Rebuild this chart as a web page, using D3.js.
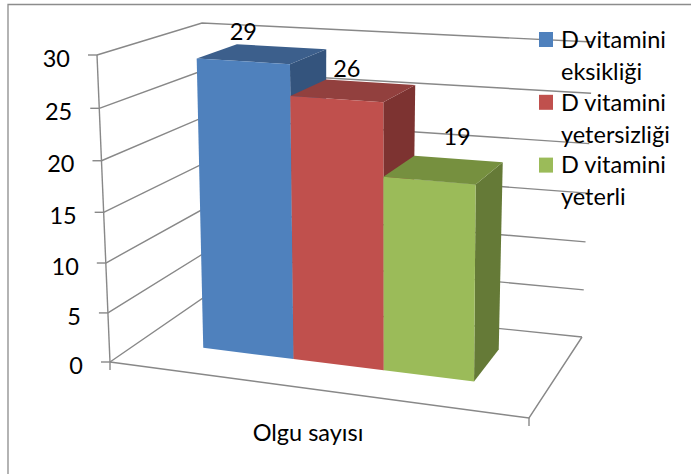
<!DOCTYPE html>
<html>
<head>
<meta charset="utf-8">
<script src="https://cdn.jsdelivr.net/npm/d3@7"></script>
<style>
  html, body { margin: 0; padding: 0; background: #ffffff; }
  svg { display: block; }
  text { font-family: Lato, "Open Sans", sans-serif; fill: #000; }
</style>
</head>
<body>
<svg id="chart" width="691" height="474"></svg>
<script>
// ---- data ----
const categories = ["Olgu sayısı"];
const seriesNames = ["D vitamini eksikliği", "D vitamini yetersizliği", "D vitamini yeterli"];
const legendLines = [["D vitamini", "eksikliği"], ["D vitamini", "yetersizliği"], ["D vitamini", "yeterli"]];
const values = [29, 26, 19];
const yTicks = [0, 5, 10, 15, 20, 25, 30];

// ---- styles ----
const frontColors = ["#4F81BD", "#C0504D", "#9BBB59"];
const topColors = ["#3C5F8C", "#92403E", "#76903F"];
const sideColors = ["#34547D", "#7D3331", "#657A37"];
const gridColor = "#888888";
const fontSize = "23.5px";

// ---- 3D projection layout (box corners on screen) ----
const corners = {
  A: [110, 362], B: [529, 418], C: [203, 298], D: [582, 337],   // floor: front-left, front-right, back-left, back-right
  E: [97, 55],   F: [531, 83],  G: [202, 23],  H: [593, 42]     // top plane at max value
};
const persp = -0.0483;   // vertical perspective factor

const svg = d3.select("#chart");

// scales
const yScale = d3.scaleLinear().domain([0, 30]).range([0, 1]);
const xScale = d3.scaleBand().domain(seriesNames).range([0.152, 0.82]).padding(0);
const zFront = 0.34, zBack = 0.75;

function bilinear(p00, p10, p01, p11, u, w) {
  return [
    (1 - u) * (1 - w) * p00[0] + u * (1 - w) * p10[0] + (1 - u) * w * p01[0] + u * w * p11[0],
    (1 - u) * (1 - w) * p00[1] + u * (1 - w) * p10[1] + (1 - u) * w * p01[1] + u * w * p11[1]
  ];
}
function proj(u, v, w) {
  const t = yScale(v);
  const s = t * (1 + persp) / (1 + persp * t);
  const b = bilinear(corners.A, corners.B, corners.C, corners.D, u, w);
  const tp = bilinear(corners.E, corners.F, corners.G, corners.H, u, w);
  return [b[0] + (tp[0] - b[0]) * s, b[1] + (tp[1] - b[1]) * s];
}
const line = d3.line();

// chart border
svg.append("path")
  .attr("d", "M8,480 L8,4.5 L700,4.5")
  .attr("fill", "none").attr("stroke", "#8c8c8c").attr("stroke-width", 1.3);

// gridlines: left wall and back wall
const grid = svg.append("g").attr("fill", "none").attr("stroke", gridColor).attr("stroke-width", 1.4);
yTicks.forEach(v => {
  grid.append("path").attr("d", line([proj(0, v, 0), proj(0, v, 1), proj(1, v, 1)]));
});
// floor edges
grid.append("path").attr("d", line([proj(0, 0, 0), proj(1, 0, 0), proj(1, 0, 1)]));
// value axis line
grid.append("path").attr("d", line([proj(0, 0, 0), proj(0, 30, 0)]));
// value ticks
yTicks.forEach(v => {
  const p = proj(0, v, 0);
  grid.append("path").attr("d", line([[p[0] - 9, p[1]], p]));
});
// category ticks
[0, 1].forEach(u => {
  const p = proj(u, 0, 0);
  grid.append("path").attr("d", line([p, [p[0], p[1] + 8]]));
});

// value labels
yTicks.forEach(v => {
  const p = proj(0, v, 0);
  svg.append("text")
    .attr("x", p[0] - 27).attr("y", p[1] + 11.7)
    .attr("text-anchor", "end")
    .style("font-size", fontSize)
    .text(v);
});

// bars
const bars = svg.append("g");
seriesNames.forEach((name, i) => {
  const u0 = xScale(name), u1 = u0 + xScale.bandwidth(), v = values[i];
  const g = bars.append("g");
  const side = [proj(u1, 0, zFront), proj(u1, 0, zBack), proj(u1, v, zBack), proj(u1, v, zFront)];
  const top = [proj(u0, v, zFront), proj(u1, v, zFront), proj(u1, v, zBack), proj(u0, v, zBack)];
  const front = [proj(u0, 0, zFront), proj(u1, 0, zFront), proj(u1, v, zFront), proj(u0, v, zFront)];
  g.append("path").attr("d", line(side) + "Z").attr("fill", sideColors[i]);
  g.append("path").attr("d", line(top) + "Z").attr("fill", topColors[i]);
  g.append("path").attr("d", line(front) + "Z").attr("fill", frontColors[i]);
});

// data labels
const labelNudge = [[0, -21.5], [10, -22.4], [27.6, -35.5]];
seriesNames.forEach((name, i) => {
  const uc = xScale(name) + xScale.bandwidth() / 2;
  const p = proj(uc, values[i], zFront);
  svg.append("text")
    .attr("x", p[0] + labelNudge[i][0]).attr("y", p[1] + labelNudge[i][1])
    .attr("text-anchor", "middle")
    .style("font-size", fontSize)
    .text(values[i]);
});

// category label
svg.append("text")
  .attr("x", 308).attr("y", 440.5)
  .attr("text-anchor", "middle")
  .style("font-size", fontSize)
  .text(categories[0]);

// legend
const legend = svg.append("g").attr("transform", "translate(539,32)");
legendLines.forEach((lines, i) => {
  const gy = i * 62.8;
  legend.append("rect").attr("x", 0).attr("y", gy).attr("width", 14).attr("height", 15).attr("fill", frontColors[i]);
  lines.forEach((t, j) => {
    legend.append("text")
      .attr("x", 22).attr("y", gy + 15.7 + j * 32)
      .style("font-size", fontSize)
      .text(t);
  });
});
</script>
</body>
</html>
